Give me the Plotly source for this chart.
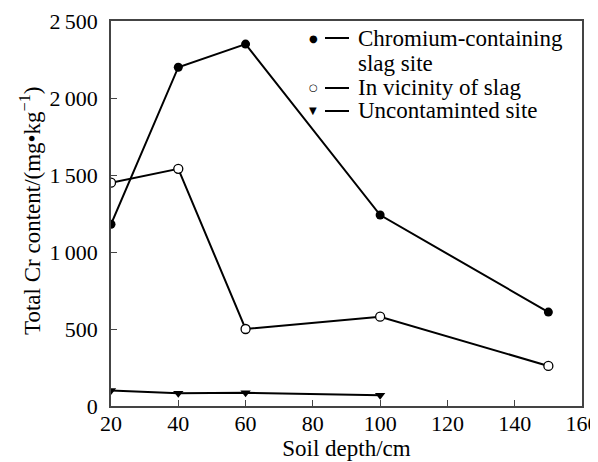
import plotly.graph_objects as go

depth = [20, 40, 60, 100, 150]
chromium_site = [1180, 2200, 2350, 1240, 610]
vicinity = [1450, 1540, 500, 580, 260]
depth_unc = [20, 40, 60, 100]
uncontaminated = [100, 82, 86, 70]

names = ["Chromium-containing", "slag site", "In vicinity of slag", "Uncontaminted site"]
y_ticks = [0, 500, 1000, 1500, 2000, 2500]
y_ticktext = ["0", "500", "1\u2009000", "1\u2009500", "2\u2009000", "2\u2009500"]
x_ticks = [20, 40, 60, 80, 100, 120, 140, 160]
x_title = "Soil depth/cm"
y_title = "Total Cr content/(mg\u2022kg<sup>\u22121</sup>)"

FONT = "Liberation Serif, Times New Roman, serif"
W, H = 598, 462
OFF = 8  # default page body margin
# plot area in page pixels: x 111..582, y 21..406
ML, MT = 111 - OFF, 21 - OFF
MR, MB = W - (582 - OFF), H - (406 - OFF)
PW, PH = W - ML - MR, H - MT - MB


def px2paper(x, y):
    # page pixel -> paper coords
    return (x - OFF - ML) / PW, (H - MB - (y - OFF)) / PH


fig = go.Figure()
fig.add_trace(go.Scatter(x=depth, y=chromium_site, mode="lines+markers", name=names[0],
                         line=dict(color="black", width=2),
                         marker=dict(symbol="circle", size=9, color="black")))
fig.add_trace(go.Scatter(x=depth, y=vicinity, mode="lines+markers", name=names[2],
                         line=dict(color="black", width=2),
                         marker=dict(symbol="circle", size=9, color="white",
                                     line=dict(color="black", width=1.3))))
fig.add_trace(go.Scatter(x=depth_unc, y=uncontaminated, mode="lines+markers", name=names[3],
                         line=dict(color="black", width=2),
                         marker=dict(symbol="triangle-down", size=9, color="black")))

# legend drawn as text rows (symbol, dash, label)
rows = [(38, "\u25CF", names[0]), (63, None, names[1]), (88, "\u25CB", names[2]), (111, "\u25BC", names[3])]
for py, sym, label in rows:
    if sym is not None:
        sx, sy = px2paper(313, py)
        fig.add_annotation(x=sx, y=sy, xref="paper", yref="paper", text=sym, showarrow=False,
                           font=dict(size=10, color="black", family="DejaVu Sans"),
                           xanchor="center", yanchor="middle")
        x0, y0 = px2paper(325, py)
        x1, _ = px2paper(349, py)
        fig.add_shape(type="line", xref="paper", yref="paper", x0=x0, x1=x1, y0=y0, y1=y0,
                      line=dict(color="black", width=2))
    tx, ty = px2paper(356, py)
    fig.add_annotation(x=tx, y=ty, xref="paper", yref="paper", text=label, showarrow=False,
                       font=dict(size=23, color="black", family=FONT),
                       xanchor="left", yanchor="middle")

# y-axis title
yx, yy = px2paper(30, 211)
fig.add_annotation(x=yx, y=yy, xref="paper", yref="paper", text=y_title, showarrow=False,
                   textangle=-90, font=dict(size=23, color="black", family=FONT),
                   xanchor="center", yanchor="middle")

fig.update_layout(
    width=W, height=H,
    margin=dict(l=ML, r=MR, t=MT, b=MB),
    paper_bgcolor="white", plot_bgcolor="white",
    font=dict(family=FONT, size=22, color="black"),
    showlegend=False,
    xaxis=dict(range=[20, 160], tickvals=x_ticks, ticks="inside", ticklen=6, tickcolor="#444",
               showline=True, linecolor="#444", linewidth=1.5, mirror=True,
               showgrid=False, zeroline=False, automargin=False, ticklabelstandoff=-3,
               title=dict(text=x_title, standoff=2, font=dict(size=23)),
               tickfont=dict(size=22)),
    yaxis=dict(range=[0, 2500], tickvals=y_ticks, ticktext=y_ticktext, ticks="inside", ticklen=6,
               tickcolor="#444",
               showline=True, linecolor="#444", linewidth=1.5, mirror=True,
               showgrid=False, zeroline=False, automargin=False, ticklabelstandoff=7,
               tickfont=dict(size=22)),
)

fig.write_html("out.html")
